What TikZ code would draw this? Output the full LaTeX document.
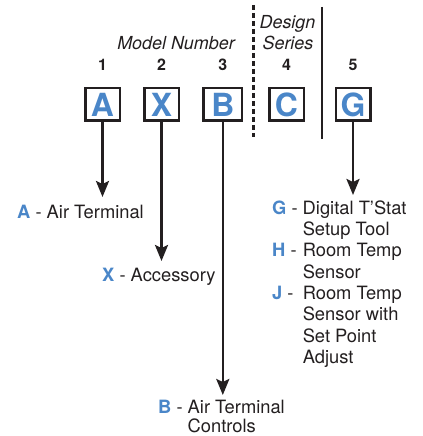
\documentclass[tikz,border=0pt]{standalone}
\usepackage{fontspec}
\setmainfont{texgyreheros}[Extension=.otf, UprightFont=*-regular, BoldFont=*-bold, ItalicFont=*-italic, BoldItalicFont=*-bolditalic]
\usetikzlibrary{arrows.meta}
\definecolor{ink}{HTML}{231F20}
\definecolor{codeblue}{HTML}{4A86C8}
\newcommand{\code}[1]{\textcolor{codeblue}{\bfseries #1}}
\begin{document}
\begin{tikzpicture}[x=1bp,y=-1bp,
  codebox/.style={draw=ink, line width=2.5bp, minimum width=34.5bp, minimum height=32.5bp, inner sep=0pt,
    text=codeblue, font=\fontsize{32}{32}\selectfont\bfseries},
  num/.style={anchor=base, inner sep=0pt, text=ink, font=\fontsize{16}{16}\selectfont\bfseries},
  head/.style={anchor=base, inner sep=0pt, text=ink, font=\fontsize{18}{21}\selectfont\itshape},
  lbl/.style={anchor=base west, inner sep=0pt, text=ink, font=\fontsize{18.4}{21.4}\selectfont},
  conn/.style={draw=ink, line width=2.5bp, -{Stealth[length=16bp,width=13bp,inset=3bp]}},
  divider/.style={draw=ink, line width=2.5bp}
]
\useasboundingbox (0,0) rectangle (422,436);

% headings
\node[head] (design) at (287.5,28.5) {Design};
\node[head] (series) at (288,50) {Series};
\node[head] (model) at (176,50) {Model Number};

% position numbers
\node[num] (n1) at (102.5,70.5) {1};
\node[num] (n2) at (161.5,70.5) {2};
\node[num] (n3) at (222.8,70.5) {3};
\node[num] (n4) at (286.5,70.5) {4};
\node[num] (n5) at (353,70.5) {5};

% code boxes
\node[codebox] (A) at (102.5,104.5) {A};
\node[codebox] (X) at (161.5,104.5) {X};
\node[codebox, minimum width=38.5bp] (B) at (222.8,104.5) {B};
\node[codebox] (C) at (286.5,104.5) {C};
\node[codebox] (G) at (353,104.5) {G};

% dividers
\draw[divider, dash pattern=on 5bp off 3bp] (253.5,5) -- (253.5,137);
\draw[divider] (322,7) -- (322,139);

% labels
\node[lbl] (lblA) at (17,218.5) {\code{A} - Air Terminal};
\node[lbl] (lblX) at (102,281) {\code{X} - Accessory};
\node[lbl, font=\fontsize{18.4}{20}\selectfont] (lblB) at (158,413) {\begin{tabular}[t]{@{}l@{\ }l@{}}\code{B} - & Air Terminal\\ & Controls\end{tabular}};
\node[lbl] (lblG) at (272,214.3) {\begin{tabular}[t]{@{}l@{\ }l@{}}\code{G} - & Digital T’Stat\\ & Setup Tool\\ \code{H} - & Room Temp\\ & Sensor\\ \code{J} - & Room Temp\\ & Sensor with\\ & Set Point\\ & Adjust\end{tabular}};

% arrow tips
\coordinate (tipA) at (102.5,197);
\coordinate (tipX) at (161.5,261);
\coordinate (tipB) at (222.8,395);
\coordinate (tipG) at (353,195);

\draw[conn] (A.south) -- (tipA);
\draw[conn] (X.south) -- (tipX);
\draw[conn] (B.south) -- (tipB);
\draw[conn] (G.south) -- (tipG);
\end{tikzpicture}
\end{document}
